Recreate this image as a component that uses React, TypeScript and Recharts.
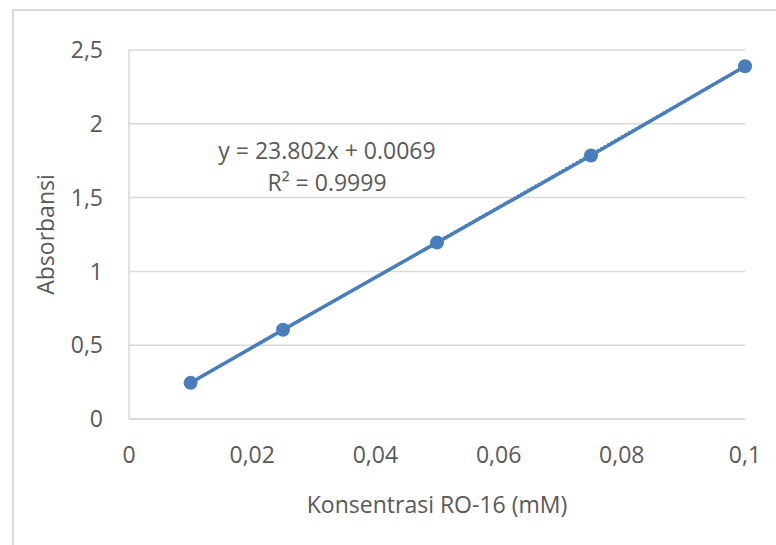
import React from "react";
import {
  ScatterChart,
  Scatter,
  XAxis,
  YAxis,
  CartesianGrid,
} from "recharts";

const concentration = [0.01, 0.025, 0.05, 0.075, 0.1];
const absorbance = [0.245, 0.605, 1.195, 1.785, 2.39];
const trendX = [0.01, 0.1];
const trendY = [0.245, 2.387];
const xTicks = [0, 0.02, 0.04, 0.06, 0.08, 0.1];
const yTicks = [0, 0.5, 1, 1.5, 2, 2.5];
const equation = "y = 23.802x + 0.0069";
const rSquared = "R² = 0.9999";

const BLUE = "#4a7ebb";
const GREY = "#595959";
const GRID = "#d9d9d9";
const FONT = "'Open Sans', sans-serif";

const points = concentration.map((x, i) => ({ x, y: absorbance[i] }));
const trend = trendX.map((x, i) => ({ x, y: trendY[i] }));

const fmt = (v: number) => String(v).replace(".", ",");

const Dot = (p: any) => <circle cx={p.cx} cy={p.cy} r={7} fill={BLUE} />;
const NoDot = () => <g />;

export default function App() {
  return (
    <div
      style={{
        position: "absolute",
        left: 0,
        top: 0,
        width: 776,
        height: 545,
        background: "#fff",
        fontFamily: FONT,
        overflow: "hidden",
      }}
    >
      <div
        style={{
          position: "absolute",
          left: 12,
          top: 9,
          width: 800,
          height: 600,
          borderLeft: `2px solid ${GRID}`,
          borderTop: `2px solid ${GRID}`,
        }}
      />
      <ScatterChart
        width={776}
        height={545}
        margin={{ top: 50, right: 31, bottom: 0, left: 0 }}
        style={{ position: "absolute", left: 0, top: 0, fontFamily: FONT }}
      >
        <CartesianGrid vertical={false} stroke={GRID} strokeWidth={1.5} />
        <XAxis
          type="number"
          dataKey="x"
          domain={[0, 0.1]}
          ticks={xTicks}
          tickFormatter={fmt}
          height={126}
          tickLine={false}
          tickSize={0}
          tickMargin={28}
          axisLine={{ stroke: GRID, strokeWidth: 1.5 }}
          tick={{ fill: GREY, fontSize: 23, fontFamily: FONT }}
          label={{
            value: "Konsentrasi RO-16 (mM)",
            position: "insideBottom",
            offset: 32,
            fill: GREY,
            fontSize: 23,
            fontFamily: FONT,
          }}
        />
        <YAxis
          type="number"
          dataKey="y"
          domain={[0, 2.5]}
          ticks={yTicks}
          tickFormatter={fmt}
          width={129}
          tickLine={false}
          tickSize={0}
          tickMargin={26}
          axisLine={{ stroke: GRID, strokeWidth: 1.5 }}
          tick={{ fill: GREY, fontSize: 23, fontFamily: FONT }}
          label={{
            value: "Absorbansi",
            position: "insideLeft",
            angle: -90,
            offset: 46,
            fill: GREY,
            fontSize: 23,
            fontFamily: FONT,
            style: { textAnchor: "middle" },
          }}
        />
        <Scatter
          data={points}
          line={{ stroke: BLUE, strokeWidth: 3.5 }}
          lineType="joint"
          shape={Dot}
          isAnimationActive={false}
        />
        <Scatter
          data={trend}
          line={{ stroke: BLUE, strokeWidth: 3, strokeDasharray: "2 2" }}
          lineType="joint"
          shape={NoDot}
          isAnimationActive={false}
        />
      </ScatterChart>
      <div
        style={{
          position: "absolute",
          left: 187,
          top: 134,
          width: 280,
          textAlign: "center",
          color: GREY,
          fontSize: 23,
          lineHeight: "32px",
          whiteSpace: "nowrap",
        }}
      >
        <div>{equation}</div>
        <div>{rSquared}</div>
      </div>
    </div>
  );
}
